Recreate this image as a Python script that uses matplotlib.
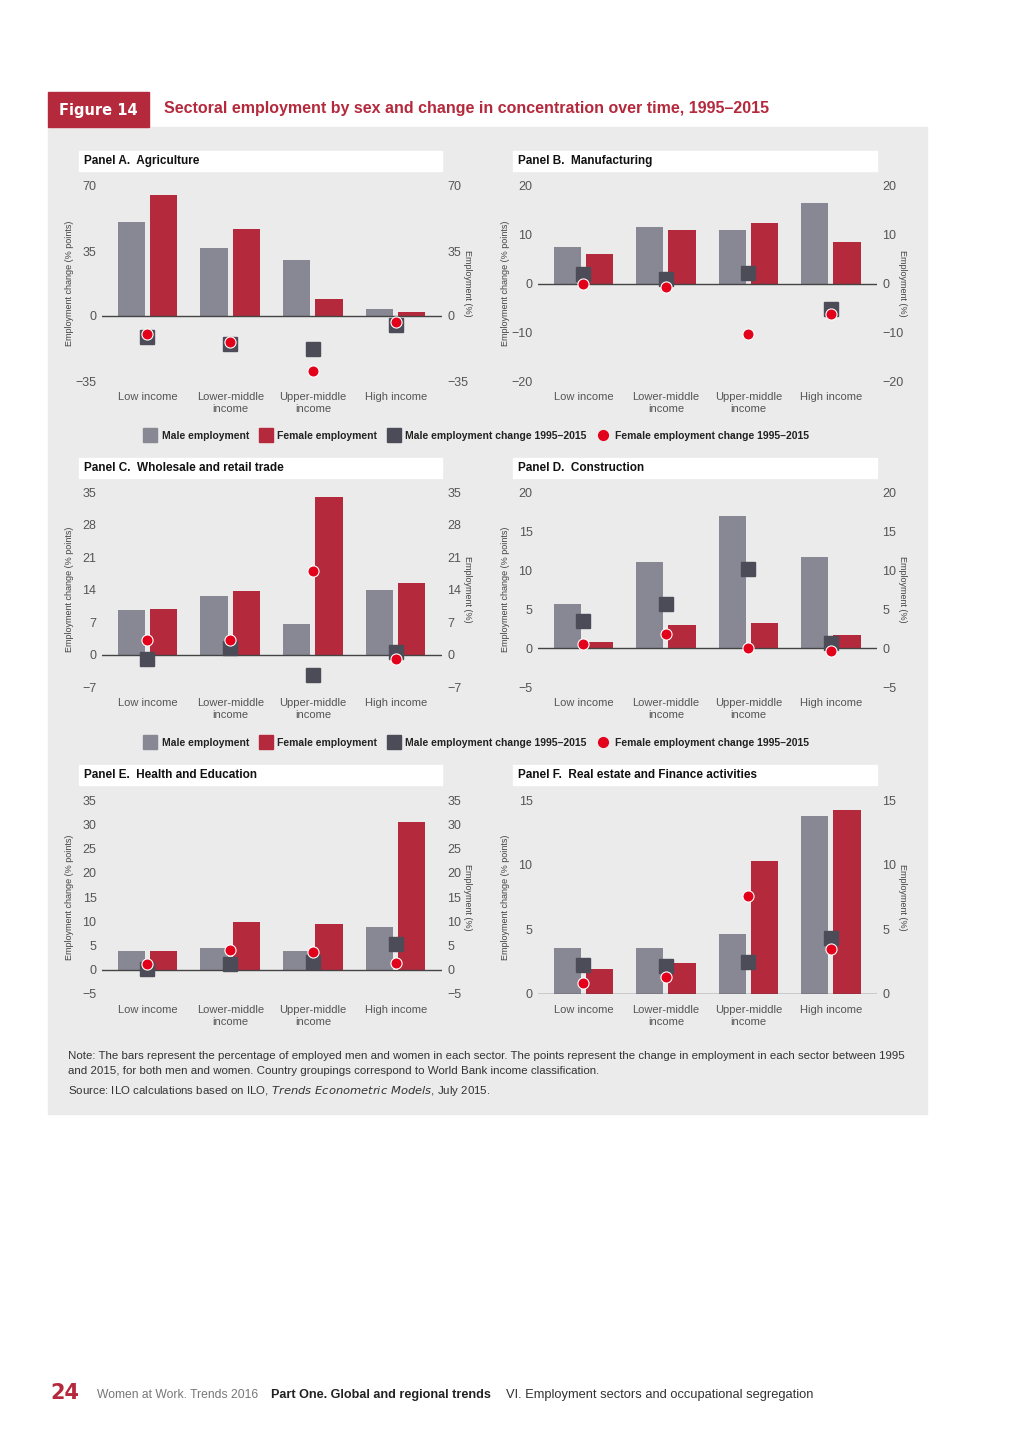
import matplotlib
matplotlib.use('Agg')
import matplotlib.pyplot as plt
from matplotlib.patches import Rectangle
from matplotlib.lines import Line2D
import numpy as np

plt.rcParams['font.family'] = ['Liberation Sans Narrow', 'Liberation Sans', 'DejaVu Sans']

# ---- data -----------------------------------------------------------------
categories = ['Low income', 'Lower-middle\nincome', 'Upper-middle\nincome', 'High income']

panel_titles = ['Panel A.  Agriculture', 'Panel B.  Manufacturing',
                'Panel C.  Wholesale and retail trade', 'Panel D.  Construction',
                'Panel E.  Health and Education', 'Panel F.  Real estate and Finance activities']

male_emp = [
    [50.4, 36.8, 30.3, 3.9],
    [7.45, 11.5, 11.0, 16.5],
    [9.5, 12.6, 6.5, 13.9],
    [5.7, 11.0, 16.9, 11.7],
    [3.85, 4.5, 3.8, 8.9],
    [3.55, 3.55, 4.65, 13.75],
]
female_emp = [
    [65.4, 46.7, 9.0, 2.3],
    [6.1, 11.0, 12.4, 8.6],
    [9.8, 13.6, 33.9, 15.5],
    [0.8, 2.9, 3.25, 1.65],
    [3.85, 9.9, 9.5, 30.5],
    [1.95, 2.4, 10.3, 14.25],
]
male_change = [
    [-11.1, -15.1, -17.9, -5.0],
    [2.05, 0.95, 2.25, -5.3],
    [-1.0, 1.4, -4.5, 0.6],
    [3.45, 5.7, 10.1, 0.6],
    [0.2, 1.2, 1.5, 5.35],
    [2.25, 2.2, 2.5, 4.3],
]
female_change = [
    [-9.9, -14.2, -29.6, -3.2],
    [-0.1, -0.8, -10.3, -6.3],
    [3.2, 3.1, 18.0, -0.9],
    [0.55, 1.8, 0.05, -0.4],
    [1.2, 4.05, 3.6, 1.4],
    [0.85, 1.3, 7.6, 3.45],
]
y_ticks = [
    [-35, 0, 35, 70],
    [-20, -10, 0, 10, 20],
    [-7, 0, 7, 14, 21, 28, 35],
    [-5, 0, 5, 10, 15, 20],
    [-5, 0, 5, 10, 15, 20, 25, 30, 35],
    [0, 5, 10, 15],
]

# ---- styles ---------------------------------------------------------------
C_MALE = '#878894'
C_FEMALE = '#b5293c'
C_SQ = '#4b4c58'
C_DOT = '#e2001a'
C_BG = '#ebebeb'
C_TXT = '#555555'
W, H = 1024, 1449


def fig_rect(x0, y0, x1, y1):
    return [x0 / W, 1 - y1 / H, (x1 - x0) / W, (y1 - y0) / H]


def add_box(x0, y0, x1, y1, color, z):
    fig.patches.append(Rectangle((x0 / W, 1 - y1 / H), (x1 - x0) / W, (y1 - y0) / H,
                                 transform=fig.transFigure, color=color, zorder=z))


fig = plt.figure(figsize=(W / 100, H / 100), dpi=100)
fig.patch.set_facecolor('white')

# grey panel background and title banner
add_box(48, 127, 927, 1114, C_BG, -2)
add_box(48, 92, 149, 127, C_FEMALE, -2)
fig.text(98.5 / W, 1 - 110 / H, 'Figure 14', color='white', fontsize=10.5,
         fontweight='bold', family='DejaVu Sans', va='center', ha='center')
fig.text(164 / W, 1 - 109 / H,
         'Sectoral employment by sex and change in concentration over time, 1995\u20132015',
         color=C_FEMALE, fontsize=11.5, fontweight='bold', family='Liberation Sans', va='center')

# axes positions (pixel boxes: x0, y0, x1, y1) and header boxes
ax_boxes = [(102, 186, 442, 381), (538, 186, 877, 381),
            (102, 492, 442, 687), (538, 492, 877, 687),
            (102, 800, 442, 994), (538, 800, 877, 994)]
head_boxes = [(79, 151, 442, 171), (513, 151, 877, 171),
              (79, 458, 442, 478), (513, 458, 877, 478),
              (79, 765, 442, 785), (513, 765, 877, 785)]

x = np.arange(len(categories))
bw = 0.33
off = 0.195

for i in range(6):
    hx0, hy0, hx1, hy1 = head_boxes[i]
    add_box(hx0, hy0, hx1, hy1, 'white', -1)
    fig.text((hx0 + 5) / W, 1 - (hy0 + hy1) / 2 / H, panel_titles[i], fontsize=8.5,
             fontweight='bold', va='center', color='#111111')

    ax = fig.add_axes(fig_rect(*ax_boxes[i]))
    ax.set_facecolor('none')
    ticks = y_ticks[i]
    ax.set_ylim(ticks[0], ticks[-1])
    ax.set_xlim(-0.55, 3.56)

    ax.bar(x - off, male_emp[i], bw, color=C_MALE, zorder=2)
    ax.bar(x + off, female_emp[i], bw, color=C_FEMALE, zorder=2)
    ax.axhline(0, color='#444444', lw=1.0, zorder=3)
    ax.plot(x, male_change[i], 's', color=C_SQ, markersize=9.5, zorder=4, lw=0)
    ax.plot(x, female_change[i], 'o', color=C_DOT, markersize=8,
            markeredgecolor='white', markeredgewidth=0.8, zorder=5, lw=0)

    for s in ax.spines.values():
        s.set_visible(False)
    ax.set_yticks(ticks)
    ax.set_yticklabels([str(t).replace('-', '\u2212') for t in ticks])
    ax.tick_params(axis='y', length=0, labelsize=9, labelcolor=C_TXT, pad=4)
    ax.set_xticks(x)
    ax.set_xticklabels(categories, fontsize=8, color=C_TXT, linespacing=1.25)
    ax.tick_params(axis='x', length=0, pad=8)
    ax.set_ylabel('Employment change (% points)', fontsize=6.5, color='#444444')
    ax.yaxis.set_label_coords(-0.082, 0.5)

    ax2 = ax.twinx()
    ax2.set_ylim(ax.get_ylim())
    ax2.set_yticks(ticks)
    ax2.set_yticklabels([str(t).replace('-', '\u2212') for t in ticks])
    ax2.tick_params(axis='y', length=0, labelsize=9, labelcolor=C_TXT, pad=4)
    for s in ax2.spines.values():
        s.set_visible(False)
    ax2.set_ylabel('Employment (%)', fontsize=6.5, color='#444444', rotation=270, va='center')
    ax2.yaxis.set_label_coords(1.076, 0.5)

# legends
handles = [
    Line2D([], [], marker='s', ls='', color=C_MALE, markersize=10),
    Line2D([], [], marker='s', ls='', color=C_FEMALE, markersize=10),
    Line2D([], [], marker='s', ls='', color=C_SQ, markersize=10),
    Line2D([], [], marker='o', ls='', color=C_DOT, markersize=7),
]
labels = ['Male employment', 'Female employment',
          'Male employment change 1995\u20132015', 'Female employment change 1995\u20132015']
for ly in (436, 743):
    leg = fig.legend(handles, labels, loc='center', bbox_to_anchor=(477 / W, 1 - ly / H),
                     ncol=4, frameon=False, fontsize=7.5, handletextpad=0.6,
                     columnspacing=1.1, handlelength=1.0)
    for t in leg.get_texts():
        t.set_fontweight('bold')
        t.set_color('#222222')

# notes
fig.text(68 / W, 1 - 1056 / H,
         'Note: The bars represent the percentage of employed men and women in each sector. '
         'The points represent the change in employment in each sector between 1995',
         fontsize=8.25, color='#333333', va='center')
fig.text(68 / W, 1 - 1071 / H,
         'and 2015, for both men and women. Country groupings correspond to World Bank income classification.',
         fontsize=8.25, color='#333333', va='center')
fig.text(68 / W, 1 - 1091 / H,
         'Source: ILO calculations based on ILO, $\\it{Trends\\ Econometric\\ Models}$, July 2015.',
         fontsize=8.25, color='#333333', va='center')

# footer
fig.text(50 / W, 1 - 1393 / H, '24', fontsize=15, fontweight='bold', color=C_FEMALE,
         va='center', family='DejaVu Sans')
fig.text(97 / W, 1 - 1395 / H, 'Women at Work. Trends 2016', fontsize=8.7, color='#777777',
         va='center')
fig.text(271 / W, 1 - 1395 / H, 'Part One. Global and regional trends', fontsize=9.1,
         fontweight='bold', color='#222222', va='center')
fig.text(506 / W, 1 - 1395 / H, 'VI. Employment sectors and occupational segregation',
         fontsize=9.3, color='#333333', va='center')

fig.savefig('out.png', dpi=100)
